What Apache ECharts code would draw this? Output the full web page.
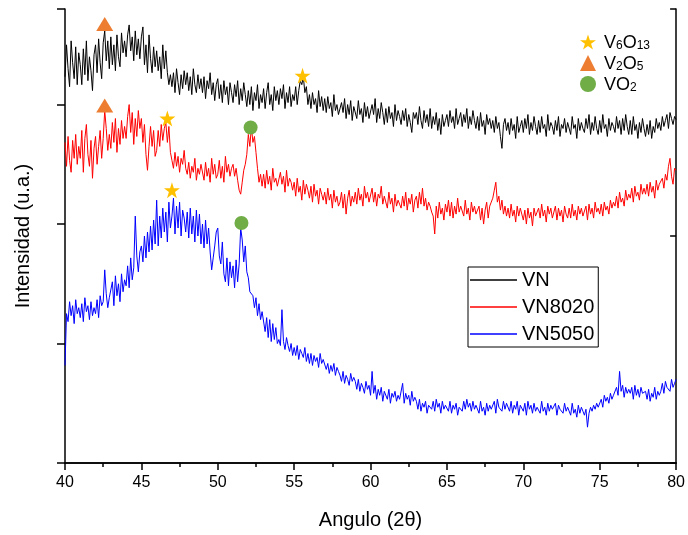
<!DOCTYPE html>
<html><head><meta charset="utf-8">
<script src="https://cdn.jsdelivr.net/npm/echarts@6/dist/echarts.min.js"></script>
<style>html,body{margin:0;padding:0;background:#fff}#c{width:688px;height:535px}</style>
</head><body><div id="c"></div>
<script>
// 2θ sampling of the diffractograms
const angleStart = 40, angleStep = 0.1;

// Intensity (arbitrary units), one value every 0.1°
const vn = [
388,420,396,378,424,402,386,418,380,412, 400,380,416,390,424,384,408,394,374,410,
420,392,426,402,386,422,434,404,424,396, 428,400,420,394,430,408,398,432,412,424,
408,430,440,414,428,404,434,410,426,406, 428,438,400,420,392,430,406,392,418,398,
414,394,408,386,420,396,414,392,380,390, 378,392,372,396,382,370,390,376,394,380,
392,374,388,370,396,380,372,390,376,386, 372,388,366,384,376,392,370,382,364,380,
386,366,380,362,384,370,378,360,382,372, 362,380,368,384,360,376,364,382,370,358,
374,360,378,354,372,364,380,356,370,362, 376,356,372,382,360,370,354,378,364,374,
360,376,366,380,356,372,362,378,358,370, 364,378,360,374,384,380,388,372,378,360,
370,356,372,360,366,352,374,358,368,354, 366,352,368,356,362,348,370,354,360,350,
348,362,352,366,346,360,350,364,344,358, 360,346,364,350,356,342,362,348,358,346,
344,360,350,366,342,356,346,362,352,340, 356,342,358,346,352,338,360,344,354,348,
340,354,344,356,338,350,342,332,352,346, 352,340,358,344,336,354,342,350,338,356,
336,348,340,352,334,346,330,350,338,344, 350,338,354,342,348,336,356,340,346,352,
338,350,342,356,336,348,340,354,344,336, 348,334,352,338,344,330,350,340,346,336,
344,332,348,336,342,328,316,340,346,334, 342,330,346,334,340,326,348,332,338,344,
332,346,336,350,330,342,334,348,338,330, 344,332,348,336,340,328,350,334,342,338,
330,344,334,348,328,340,336,346,332,342, 344,330,348,336,340,326,346,334,342,336,
332,346,336,350,330,342,334,348,336,330, 344,332,350,336,340,328,346,334,342,338,
332,348,336,344,330,346,334,350,338,330, 344,330,348,334,340,326,342,332,346,336,
328,340,330,344,326,338,332,346,336,342, 334,348,338,344,350,336,352,346,340,348,
345];

const vn8020 = [
322,298,328,304,292,324,306,330,300,318, 306,334,292,326,340,310,298,324,286,316,
328,300,318,334,306,326,354,336,314,330, 316,342,322,346,312,336,320,344,326,338,
326,348,360,332,352,320,346,328,354,336, 346,322,340,310,294,318,338,318,334,308,
314,334,318,340,324,336,342,322,338,312, 304,296,312,298,308,292,306,300,314,296,
290,302,286,298,292,306,284,296,290,300, 298,284,302,288,296,282,306,290,300,286,
290,304,286,298,282,308,292,300,288,296, 300,288,296,284,274,270,282,294,300,310,
330,318,338,322,328,312,296,282,290,278, 290,276,294,280,288,274,296,282,286,278,
276,292,280,288,272,294,278,286,282,274, 282,268,286,272,278,264,284,270,280,274,
266,278,262,280,268,274,260,276,270,264, 272,260,276,264,270,256,274,262,268,258,
262,272,256,270,250,266,274,258,268,262, 272,260,276,264,270,258,278,266,272,262,
264,276,262,272,258,270,266,278,260,268, 268,256,272,260,266,252,270,258,264,260,
256,268,258,272,254,266,260,270,252,264, 268,256,272,260,276,258,266,254,262,258,
252,248,230,258,246,262,250,256,244,260, 252,264,248,262,246,258,250,266,252,258,
260,248,264,250,256,244,262,252,258,250, 248,258,244,256,240,254,262,246,258,262,
266,274,282,262,268,254,264,250,258,248, 256,246,260,248,254,242,258,248,256,250,
244,254,240,256,246,252,238,256,248,252, 256,246,260,248,254,242,258,250,256,246,
246,258,244,256,248,254,242,258,250,246, 256,246,260,248,254,244,258,250,256,248,
248,258,244,260,250,256,246,262,252,256, 250,260,248,262,254,258,250,264,256,262,
258,268,256,272,262,266,258,274,264,270, 266,276,262,278,268,272,264,280,270,276,
270,280,268,282,272,278,266,284,274,280, 278,286,276,290,284,298,306,288,280,296,
294];

const vn5050 = [
98,150,142,162,148,158,140,164,150,156, 146,160,142,166,152,158,144,162,148,156,
150,164,146,168,158,162,194,170,156,166, 164,182,158,188,168,180,162,190,172,184,
178,198,176,206,184,196,248,208,192,212, 218,202,228,206,232,212,238,214,244,220,
264,218,248,226,256,232,252,222,262,236, 248,266,230,258,236,262,228,254,246,232,
252,226,256,230,248,222,254,228,250,220, 240,216,244,220,236,212,194,206,218,232,
236,208,200,222,190,182,206,178,202,186, 198,176,204,182,200,236,224,202,218,192,
186,172,170,168,156,166,148,160,144,152, 150,132,146,126,144,122,140,124,136,120,
124,118,154,122,114,126,118,112,120,108, 116,108,118,104,114,110,106,116,102,110,
100,110,98,108,102,106,96,110,100,104, 102,94,100,90,98,92,100,88,96,92,
88,82,92,80,88,84,78,90,82,86, 82,74,84,72,80,76,70,82,74,78,
68,92,70,78,64,74,68,76,62,72, 72,64,74,60,70,66,72,62,68,64,
62,80,60,70,64,68,58,72,62,66, 62,54,64,52,60,56,62,50,58,60,
54,62,52,64,56,60,50,62,54,58, 60,52,62,50,58,54,60,48,56,58,
52,62,54,64,56,60,52,62,54,58, 58,50,62,52,56,48,60,52,58,54,
54,62,50,64,56,58,52,62,54,60, 60,52,62,50,58,54,62,48,58,56,
52,60,48,62,54,58,50,60,52,56, 58,50,62,52,56,48,60,52,58,54,
52,60,48,58,54,56,50,60,52,56, 56,48,60,50,54,46,58,50,56,52,
48,54,36,50,56,52,58,54,60,56, 58,64,56,68,62,66,60,70,64,68,
70,76,68,92,72,78,66,76,70,74, 70,76,64,78,68,74,66,76,70,72,
72,64,74,62,70,66,76,64,72,68, 72,80,70,82,76,78,72,84,76,80,
84];

// Phase markers (2θ, intensity)
const v6o13Angles = [55.55, 46.7, 47.0];
const v6o13Levels = [389, 346, 274];
const v2o5Angles = [42.6, 42.6];
const v2o5Levels = [441, 359];
const vo2Angles = [52.15, 51.55];
const vo2Levels = [337, 241];

const seriesNames = ['VN', 'VN8020', 'VN5050'];
const phaseNames = ['V6O13', 'V2O5', 'VO2'];
const phaseLabels = {
  'V6O13': '{n|V}{s|6}{n|O}{s|13}',
  'V2O5': '{n|V}{s|2}{n|O}{s|5}',
  'VO2': '{n|VO}{s|2}'
};

const FONT = "'Liberation Sans', Arial, sans-serif";
const toPairs = arr => arr.map((v, i) => [+(angleStart + i * angleStep).toFixed(2), v]);
const zip = (a, b) => a.map((x, i) => [x, b[i]]);
const STAR = 'path://M50,0L61.2,34.5L97.6,34.5L68.2,55.9L79.4,90.5L50,69.1L20.6,90.5L31.8,55.9L2.4,34.5L38.8,34.5Z';

const axisLine = { show: true, lineStyle: { color: '#000', width: 1.5 } };

const chart = echarts.init(document.getElementById('c'), null, { renderer: 'canvas' });
chart.setOption({
  animation: false,
  backgroundColor: '#fff',
  grid: { left: 65, right: 11, top: 9, bottom: 70, containLabel: false },
  legend: [
    {
      data: seriesNames,
      orient: 'vertical',
      left: 468, top: 267,
      icon: 'rect',
      itemWidth: 47, itemHeight: 1.5, itemGap: 7,
      padding: [3, 4, 3, 2],
      borderColor: '#000', borderWidth: 1,
      textStyle: { fontSize: 20, color: '#000', fontFamily: FONT, padding: [0, 0, 0, 0] }
    },
    {
      data: phaseNames,
      orient: 'vertical',
      left: 580, top: 34,
      itemWidth: 16, itemHeight: 16, itemGap: 3,
      padding: 0,
      formatter: name => phaseLabels[name],
      textStyle: {
        color: '#000', fontFamily: FONT, padding: [0, 0, 0, 3],
        rich: {
          n: { fontSize: 18, lineHeight: 20, verticalAlign: 'bottom', fontFamily: FONT, color: '#000' },
          s: { fontSize: 12, lineHeight: 12, verticalAlign: 'bottom', fontFamily: FONT, color: '#000' }
        }
      }
    }
  ],
  xAxis: [
    {
      type: 'value', min: 40, max: 80, interval: 5, position: 'bottom',
      axisLine,
      axisTick: { show: true, inside: false, length: 7, lineStyle: { color: '#000', width: 1.5 } },
      minorTick: { show: true, splitNumber: 2, length: 4, lineStyle: { color: '#000', width: 1.5 } },
      axisLabel: { fontSize: 16, color: '#000', margin: 12, fontFamily: FONT },
      splitLine: { show: false },
      name: 'Angulo (2θ)', nameLocation: 'middle', nameGap: 47,
      nameTextStyle: { fontSize: 20, color: '#000', fontFamily: FONT }
    },
    {
      type: 'value', min: 40, max: 80, interval: 20, position: 'top',
      axisLine,
      axisTick: { show: true, inside: true, length: 6, lineStyle: { color: '#000', width: 1.5 } },
      axisLabel: { show: false },
      splitLine: { show: false }
    }
  ],
  yAxis: [
    {
      type: 'value', min: 0, max: 456, interval: 120, position: 'left',
      axisLine,
      axisTick: { show: true, inside: false, length: 8, lineStyle: { color: '#000', width: 1.5 } },
      axisLabel: { show: false },
      splitLine: { show: false },
      name: 'Intensidad (u.a.)', nameLocation: 'middle', nameGap: 32,
      nameTextStyle: { fontSize: 20, color: '#000', fontFamily: FONT }
    },
    {
      type: 'value', min: 0, max: 456, interval: 228, position: 'right',
      axisLine,
      axisTick: { show: true, inside: true, length: 6, lineStyle: { color: '#000', width: 1.5 } },
      axisLabel: { show: false },
      splitLine: { show: false }
    }
  ],
  series: [
    { name: 'VN', type: 'line', data: toPairs(vn), showSymbol: false, symbol: 'none',
      lineStyle: { color: '#000', width: 1 }, itemStyle: { color: '#000' } },
    { name: 'VN8020', type: 'line', data: toPairs(vn8020), showSymbol: false, symbol: 'none',
      lineStyle: { color: '#ff0000', width: 1 }, itemStyle: { color: '#ff0000' } },
    { name: 'VN5050', type: 'line', data: toPairs(vn5050), showSymbol: false, symbol: 'none',
      lineStyle: { color: '#0000ff', width: 1 }, itemStyle: { color: '#0000ff' } },
    { name: 'V6O13', type: 'scatter', data: zip(v6o13Angles, v6o13Levels), symbol: STAR,
      symbolSize: 16, itemStyle: { color: '#FFC000', opacity: 1 }, z: 5 },
    { name: 'V2O5', type: 'scatter', data: zip(v2o5Angles, v2o5Levels), symbol: 'triangle',
      symbolSize: [17, 14], itemStyle: { color: '#ED7D31', opacity: 1 }, z: 5 },
    { name: 'VO2', type: 'scatter', data: zip(vo2Angles, vo2Levels), symbol: 'circle',
      symbolSize: 14, itemStyle: { color: '#70AD47', opacity: 1 }, z: 5 }
  ]
});
</script></body></html>
